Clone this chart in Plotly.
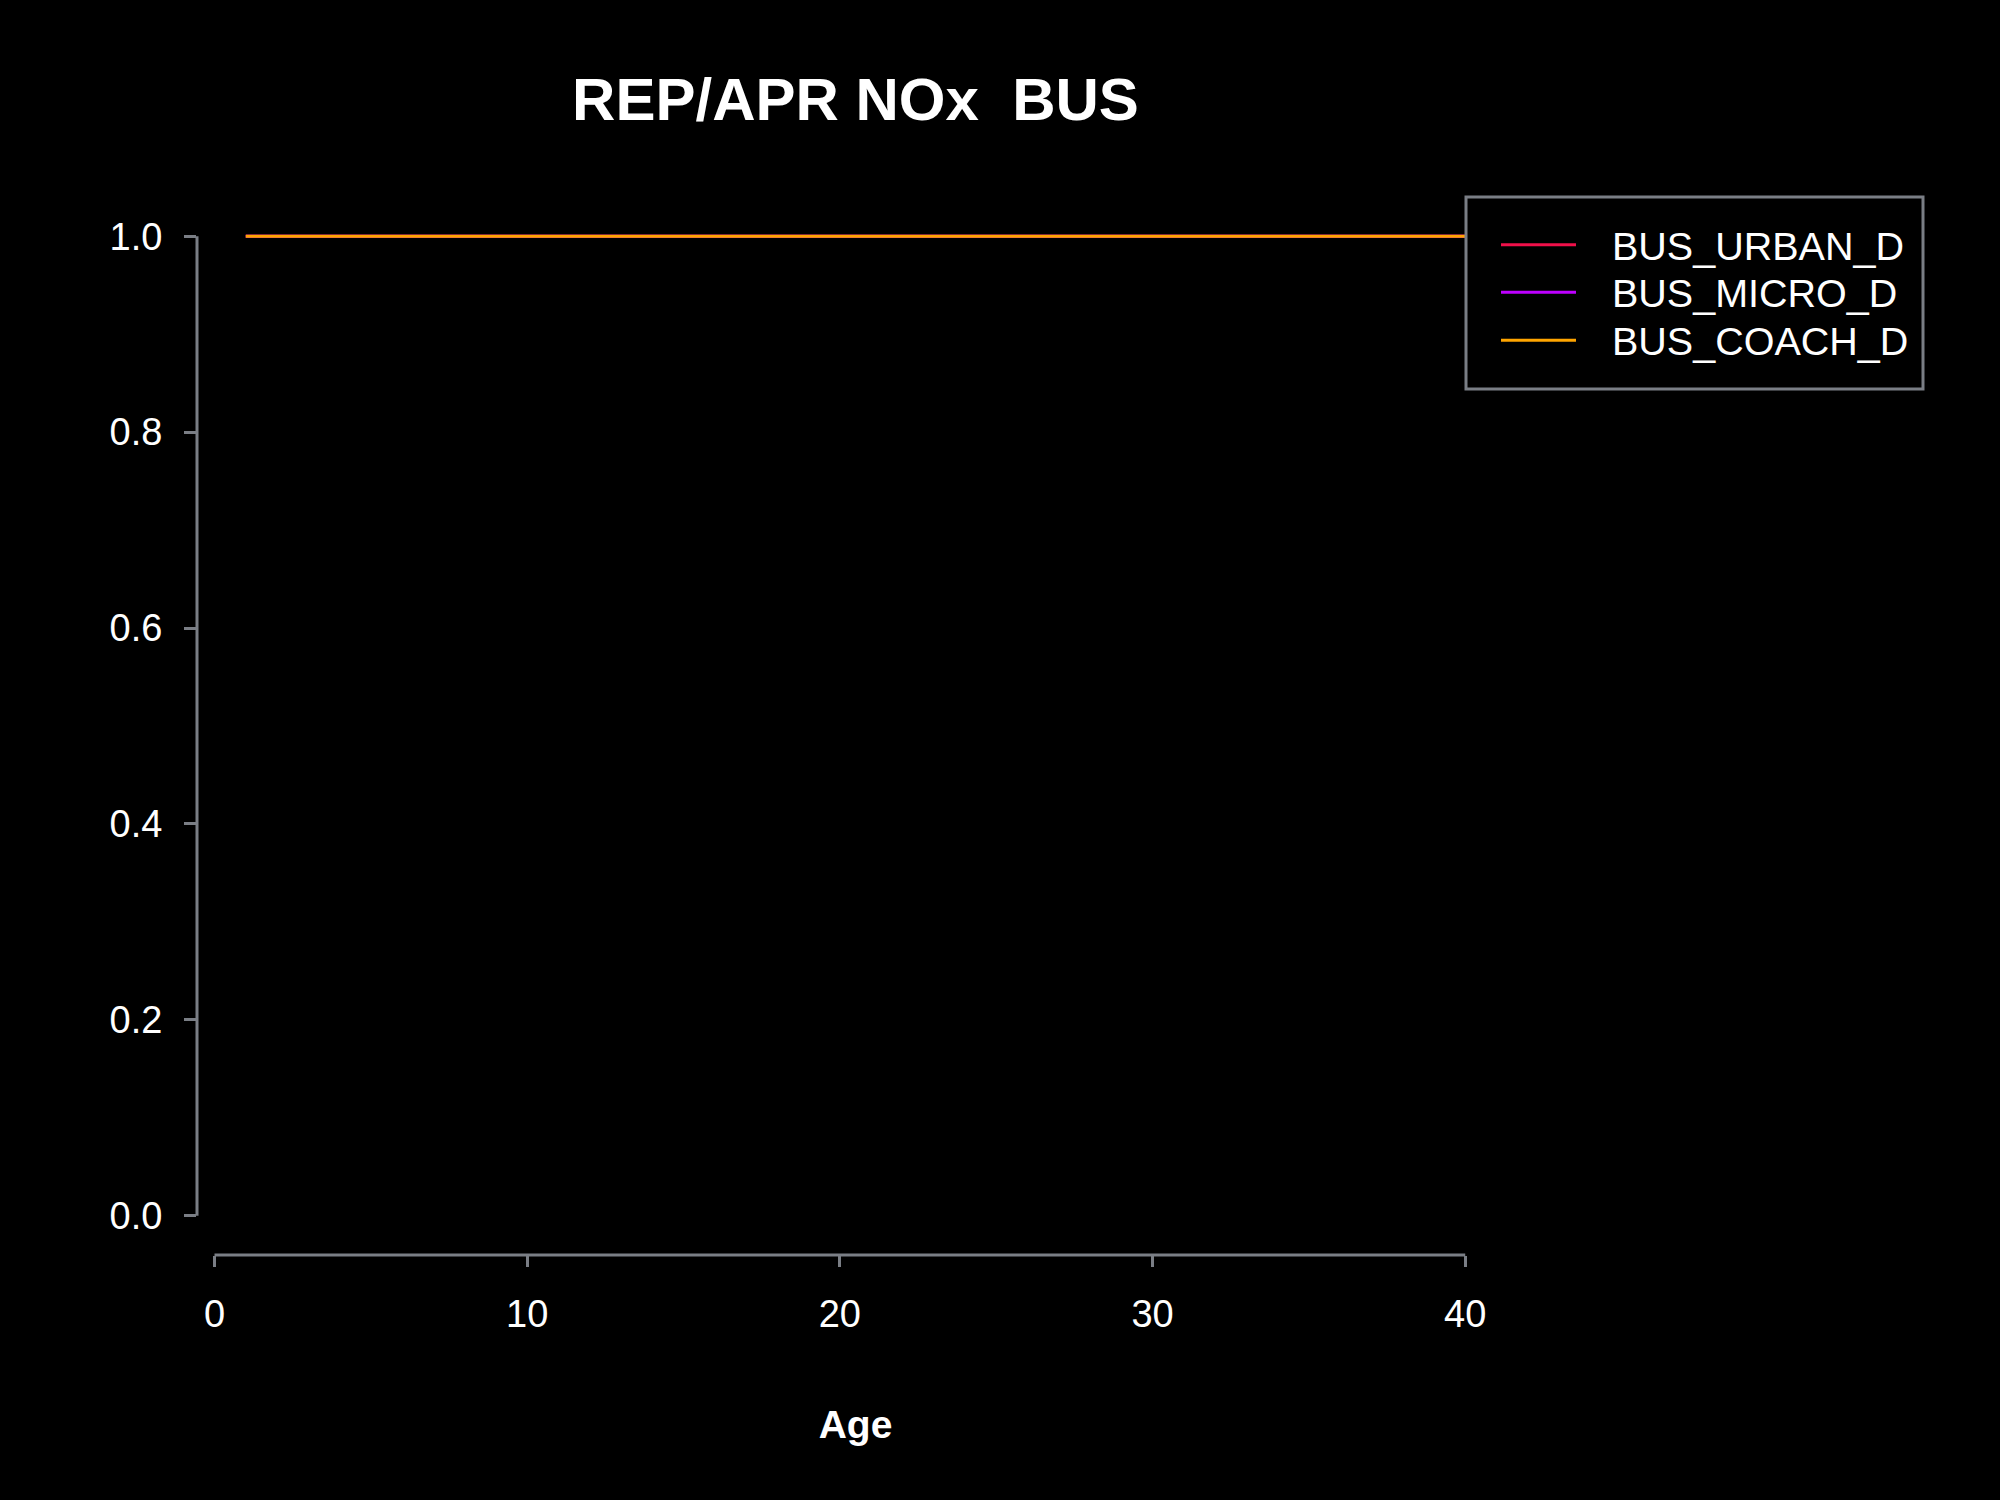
import plotly.graph_objects as go

# ---- data ----
ages = [1, 2, 3, 4, 5, 6, 7, 8, 9, 10, 11, 12, 13, 14, 15, 16, 17, 18, 19, 20,
        21, 22, 23, 24, 25, 26, 27, 28, 29, 30, 31, 32, 33, 34, 35, 36, 37, 38, 39, 40]
bus_urban_d = [1.0, 1.0, 1.0, 1.0, 1.0, 1.0, 1.0, 1.0, 1.0, 1.0, 1.0, 1.0, 1.0, 1.0, 1.0, 1.0, 1.0, 1.0, 1.0, 1.0,
               1.0, 1.0, 1.0, 1.0, 1.0, 1.0, 1.0, 1.0, 1.0, 1.0, 1.0, 1.0, 1.0, 1.0, 1.0, 1.0, 1.0, 1.0, 1.0, 1.0]
bus_micro_d = [1.0, 1.0, 1.0, 1.0, 1.0, 1.0, 1.0, 1.0, 1.0, 1.0, 1.0, 1.0, 1.0, 1.0, 1.0, 1.0, 1.0, 1.0, 1.0, 1.0,
               1.0, 1.0, 1.0, 1.0, 1.0, 1.0, 1.0, 1.0, 1.0, 1.0, 1.0, 1.0, 1.0, 1.0, 1.0, 1.0, 1.0, 1.0, 1.0, 1.0]
bus_coach_d = [1.0, 1.0, 1.0, 1.0, 1.0, 1.0, 1.0, 1.0, 1.0, 1.0, 1.0, 1.0, 1.0, 1.0, 1.0, 1.0, 1.0, 1.0, 1.0, 1.0,
               1.0, 1.0, 1.0, 1.0, 1.0, 1.0, 1.0, 1.0, 1.0, 1.0, 1.0, 1.0, 1.0, 1.0, 1.0, 1.0, 1.0, 1.0, 1.0, 1.0]
series_names = ["BUS_URBAN_D", "BUS_MICRO_D", "BUS_COACH_D"]
series_colors = ["#F0104A", "#BE00FF", "#FFA500"]
x_ticks = [0, 10, 20, 30, 40]
y_ticks = [0.0, 0.2, 0.4, 0.6, 0.8, 1.0]
title_text = "REP/APR NOx \u00a0BUS"
x_label = "Age"

# ---- layout geometry (pixels) ----
W, H = 2000, 1500
ML, MR, MT, MB = 197, 486, 197, 245
PW, PH = W - ML - MR, H - MT - MB
GREY = "#7a7e85"
FONT = "Liberation Sans"


def px_x(p):
    return (p - ML) / PW


def px_y(p):
    return (H - MB - p) / PH


fig = go.Figure()
for name, vals, col in zip(series_names, [bus_urban_d, bus_micro_d, bus_coach_d], series_colors):
    fig.add_trace(go.Scatter(x=ages, y=vals, mode="lines", name=name,
                             line=dict(color=col, width=3), showlegend=False))

xmin, xmax = min(ages), max(ages)
xpad = 0.04 * (xmax - xmin)
ypad = 0.04 * 1.0

# legend drawn as keys + real text, R style
legend_rows_px = [244.7, 292.3, 340.3]
shapes = [
    # y axis line (spans 0..1 only)
    dict(type="line", xref="paper", yref="y", x0=0, x1=0, y0=min(y_ticks), y1=max(y_ticks),
         line=dict(color=GREY, width=3)),
    # x axis line (spans 0..40 only)
    dict(type="line", xref="x", yref="paper", x0=min(x_ticks), x1=max(x_ticks), y0=0, y1=0,
         line=dict(color=GREY, width=3)),
    # legend frame
    dict(type="rect", xref="paper", yref="paper",
         x0=px_x(1466), x1=px_x(1923), y0=px_y(389), y1=px_y(197),
         line=dict(color=GREY, width=3), fillcolor="rgba(0,0,0,0)"),
]
annotations = []
for name, col, ry in zip(series_names, series_colors, legend_rows_px):
    shapes.append(dict(type="line", xref="paper", yref="paper",
                       x0=px_x(1501), x1=px_x(1576), y0=px_y(ry), y1=px_y(ry),
                       line=dict(color=col, width=3)))
    annotations.append(dict(text=name, xref="paper", yref="paper",
                            x=px_x(1610), y=px_y(ry + 1), xanchor="left", yanchor="middle",
                            showarrow=False,
                            font=dict(family=FONT, size=39.5, color="white")))

fig.update_layout(
    width=W, height=H,
    paper_bgcolor="black", plot_bgcolor="black",
    margin=dict(l=ML, r=MR, t=MT, b=MB, pad=0),
    font=dict(family=FONT, size=38, color="white"),
    title=dict(text=title_text, x=0.5, xref="paper", xanchor="center",
               y=1 - 99 / H, yref="container", yanchor="middle",
               font=dict(family=FONT, size=60, color="white", weight="bold")),
    xaxis=dict(range=[xmin - xpad, xmax + xpad], tickvals=x_ticks,
               ticktext=[str(v) for v in x_ticks],
               showgrid=False, zeroline=False, showline=False,
               ticks="outside", ticklen=11, tickwidth=3, tickcolor=GREY,
               tickfont=dict(family=FONT, size=38, color="white"),
               ticklabelstandoff=14,
               title=dict(text=x_label, standoff=77,
                          font=dict(family=FONT, size=39, color="white", weight="bold"))),
    yaxis=dict(range=[0 - ypad, 1.0 + ypad], tickvals=y_ticks,
               ticktext=["%.1f" % v for v in y_ticks],
               showgrid=False, zeroline=False, showline=False,
               ticks="outside", ticklen=12, tickwidth=3, tickcolor=GREY,
               tickfont=dict(family=FONT, size=38, color="white"),
               ticklabelstandoff=14),
    showlegend=False,
    shapes=shapes,
    annotations=annotations,
)

fig.write_html("out.html")
